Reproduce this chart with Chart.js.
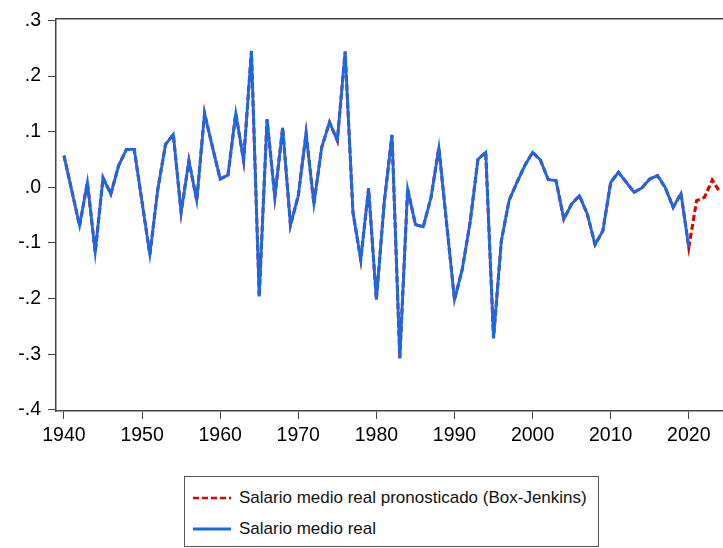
<!DOCTYPE html>
<html>
<head>
<meta charset="utf-8">
<script src="https://cdn.jsdelivr.net/npm/chart.js@4/dist/chart.umd.min.js"></script>
<style>
  html, body { margin: 0; padding: 0; background: #fff; overflow: hidden; width: 723px; height: 548px; }
  #wrap { position: relative; width: 723px; height: 548px; }
  #chart { position: absolute; left: 0; top: 0; }
  .legend {
    position: absolute; left: 184px; top: 476px; width: 415px; height: 71px;
    border: 1px solid #555; box-sizing: border-box; background: #fff;
    font-family: "Liberation Sans", Arial, sans-serif; font-size: 17px; color: #111;
  }
  .row { position: absolute; left: 8px; height: 22px; display: flex; align-items: center; white-space: nowrap; }
  .row svg { margin-right: 8px; }
</style>
</head>
<body>
<div id="wrap">
  <canvas id="chart" width="723" height="548"></canvas>
  <div class="legend">
    <div class="row" style="top:10px">
      <svg width="38" height="6"><line x1="0" y1="3" x2="38" y2="3" stroke="#E00000" stroke-width="2.6" stroke-dasharray="6,3"/></svg>
      <span>Salario medio real pronosticado (Box-Jenkins)</span>
    </div>
    <div class="row" style="top:41px">
      <svg width="38" height="6"><line x1="0" y1="3" x2="38" y2="3" stroke="#1769E8" stroke-width="2.8"/></svg>
      <span>Salario medio real</span>
    </div>
  </div>
</div>
<script>
// Annual years of the observed series
const years = [
  1940, 1941, 1942, 1943, 1944, 1945, 1946, 1947, 1948, 1949,
  1950, 1951, 1952, 1953, 1954, 1955, 1956, 1957, 1958, 1959,
  1960, 1961, 1962, 1963, 1964, 1965, 1966, 1967, 1968, 1969,
  1970, 1971, 1972, 1973, 1974, 1975, 1976, 1977, 1978, 1979,
  1980, 1981, 1982, 1983, 1984, 1985, 1986, 1987, 1988, 1989,
  1990, 1991, 1992, 1993, 1994, 1995, 1996, 1997, 1998, 1999,
  2000, 2001, 2002, 2003, 2004, 2005, 2006, 2007, 2008, 2009,
  2010, 2011, 2012, 2013, 2014, 2015, 2016, 2017, 2018, 2019,
  2020
];

// Real average wage (log difference)
const salarioReal = [
   0.057, -0.006, -0.069,  0.009, -0.117,  0.017, -0.012,  0.039,  0.068,  0.068,
  -0.027, -0.121, -0.005,  0.077,  0.095, -0.045,  0.048, -0.024,  0.133,  0.073,
   0.015,  0.022,  0.133,  0.048,  0.245, -0.196,  0.122, -0.017,  0.107, -0.068,
  -0.015,  0.097, -0.030,  0.072,  0.117,  0.084,  0.244, -0.045, -0.130, -0.002,
  -0.202, -0.028,  0.094, -0.307, -0.003, -0.067, -0.071, -0.018,  0.071, -0.066,
  -0.202, -0.147, -0.063,  0.050,  0.063, -0.271, -0.096, -0.023,  0.009,  0.039,
   0.063,  0.049,  0.014,  0.012, -0.057, -0.030, -0.015, -0.048, -0.103, -0.078,
   0.009,  0.027,  0.009, -0.009, -0.001,  0.015,  0.021, -0.001, -0.036, -0.011,
  -0.108
];

// Box-Jenkins out-of-sample forecast
const forecastYears = [2021, 2022, 2023, 2024];
const forecastValues = [-0.024, -0.018, 0.013, -0.009];

// Axis ticks
const xTicks = [1940, 1950, 1960, 1970, 1980, 1990, 2000, 2010, 2020];
const yTicks = [-0.4, -0.3, -0.2, -0.1, 0.0, 0.1, 0.2, 0.3];
const yTickLabels = ['-.4', '-.3', '-.2', '-.1', '.0', '.1', '.2', '.3'];

const FONT = '"Liberation Sans", Arial, sans-serif';
const AXIS = '#444';

const actualPoints = years.map((yr, i) => ({ x: yr, y: salarioReal[i] }));
const fittedPoints = actualPoints.concat(forecastYears.map((yr, i) => ({ x: yr, y: forecastValues[i] })));

// top frame line of the plot box
const topFrame = {
  id: 'topFrame',
  afterDraw(chart) {
    const { ctx, chartArea: a } = chart;
    ctx.save();
    ctx.strokeStyle = AXIS;
    ctx.lineWidth = 1.5;
    ctx.beginPath();
    ctx.moveTo(a.left, a.top);
    ctx.lineTo(a.right, a.top);
    ctx.stroke();
    ctx.restore();
  }
};

new Chart(document.getElementById('chart'), {
  type: 'line',
  data: {
    datasets: [
      {
        label: 'Salario medio real',
        data: actualPoints,
        borderColor: '#1769E8',
        borderWidth: 2.8,
        pointRadius: 0,
        tension: 0,
        order: 0
      },
      {
        label: 'Salario medio real pronosticado (Box-Jenkins)',
        data: fittedPoints,
        borderColor: '#E00000',
        borderDash: [6, 3],
        borderWidth: 3.1,
        pointRadius: 0,
        tension: 0,
        order: 1
      }
    ]
  },
  options: {
    responsive: false,
    animation: false,
    devicePixelRatio: 1,
    layout: { padding: { top: 18, left: 0, right: 0, bottom: 0 } },
    plugins: { legend: { display: false }, tooltip: { enabled: false } },
    scales: {
      x: {
        type: 'linear',
        min: 1938.98,
        max: 2024.38,
        afterBuildTicks(s) { s.ticks = xTicks.map(v => ({ value: v })); },
        afterFit(s) { s.height = 137; },
        grid: { drawOnChartArea: false, drawTicks: true, tickLength: 8, color: AXIS, lineWidth: 1 },
        border: { display: true, color: AXIS, width: 1.5 },
        ticks: {
          autoSkip: false, maxRotation: 0, padding: 5, color: '#000',
          font: { family: FONT, size: 19.5 },
          callback: v => String(v)
        }
      },
      y: {
        type: 'linear',
        min: -0.402,
        max: 0.303,
        afterBuildTicks(s) { s.ticks = yTicks.map(v => ({ value: v })); },
        afterFit(s) { s.width = 56; },
        grid: { drawOnChartArea: false, drawTicks: true, tickLength: 8, color: AXIS, lineWidth: 1 },
        border: { display: true, color: AXIS, width: 1.5 },
        ticks: {
          padding: 7, color: '#000',
          font: { family: FONT, size: 19.5 },
          callback: (v, i) => yTickLabels[i]
        }
      }
    }
  },
  plugins: [topFrame]
});
</script>
</body>
</html>
